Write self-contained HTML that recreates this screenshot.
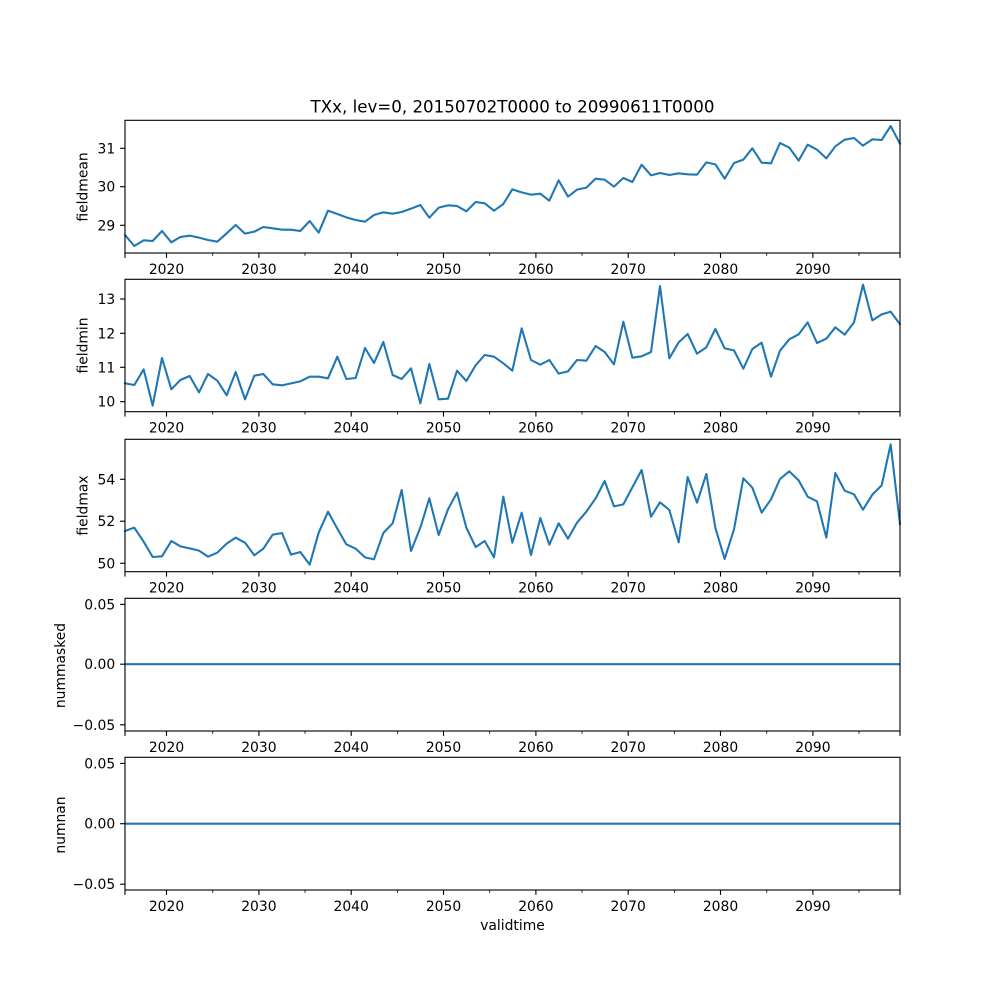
<!DOCTYPE html>
<html>
<head>
<meta charset="utf-8">
<style>
  html, body { margin: 0; padding: 0; background: #ffffff; }
  svg { display: block; }
  text { font-family: "DejaVu Sans", "Liberation Sans", sans-serif; fill: #000; }
  .tl { font-size: 13.89px; }
  .ttl { font-size: 16.67px; }
  .ax { fill: none; stroke: #000; stroke-width: 1.11; }
  .mj { stroke: #000; stroke-width: 1.11; }
  .mn { stroke: #000; stroke-width: 0.83; }
  .ln { fill: none; stroke: #1f77b4; stroke-width: 6.25; stroke-linejoin: round; stroke-linecap: square; }
  .hl { fill: none; stroke: #1f77b4; stroke-width: 2.08; }
</style>
</head>
<body>
<svg width="1000" height="1000" viewBox="0 0 1000 1000" xmlns="http://www.w3.org/2000/svg">
  <rect x="0" y="0" width="1000" height="1000" fill="#ffffff"/>

  <!-- Title -->
  <text class="ttl" x="512.5" y="112.7" text-anchor="middle">TXx, lev=0, 20150702T0000 to 20990611T0000</text>

  <!-- ===== Panel 1: fieldmean ===== -->
  <g transform="translate(100 100) scale(0.333333)">
    <polyline class="ln" points="75,405 103,438 131,421 158,423 186,393 214,427 241,411 269,407 297,413 324,420 352,425 380,400 407,375 435,401 463,395 490,381 518,385 546,389 573,389 601,393 629,363 656,398 684,332 712,342 739,352 767,360 795,365 822,345 850,337 878,341 905,336 933,326 961,315 988,353 1016,323 1044,316 1071,318 1099,334 1127,306 1154,310 1182,332 1210,312 1237,268 1265,277 1293,284 1321,281 1348,302 1376,241 1404,290 1431,269 1459,263 1487,236 1514,239 1542,260 1570,234 1597,246 1625,194 1653,226 1680,219 1708,225 1736,220 1763,223 1791,224 1819,187 1846,193 1874,236 1902,189 1930,179 1957,145 1985,188 2013,190 2040,129 2068,143 2096,182 2123,134 2151,149 2179,175 2206,139 2234,119 2262,114 2289,137 2317,118 2345,120 2372,78 2400,131"/>
  </g>
  <rect class="ax" x="125" y="120.3" width="775" height="132.7"/>
  <g>
    <line class="mj" x1="120.1" y1="148.3" x2="125" y2="148.3"/>
    <line class="mj" x1="120.1" y1="186.7" x2="125" y2="186.7"/>
    <line class="mj" x1="120.1" y1="225.3" x2="125" y2="225.3"/>
    <text class="tl" x="115.2" y="153.3" text-anchor="end">31</text>
    <text class="tl" x="115.2" y="191.7" text-anchor="end">30</text>
    <text class="tl" x="115.2" y="230.3" text-anchor="end">29</text>
    <text class="tl" transform="translate(87.7 187) rotate(-90)" text-anchor="middle">fieldmean</text>
  </g>
  <g transform="translate(0 253)">
    <line class="mj" x1="125" y1="0" x2="125" y2="4.9"/>
    <line class="mj" x1="166.5" y1="0" x2="166.5" y2="4.9"/>
    <line class="mj" x1="258.9" y1="0" x2="258.9" y2="4.9"/>
    <line class="mj" x1="351.2" y1="0" x2="351.2" y2="4.9"/>
    <line class="mj" x1="443.5" y1="0" x2="443.5" y2="4.9"/>
    <line class="mj" x1="535.9" y1="0" x2="535.9" y2="4.9"/>
    <line class="mj" x1="628.2" y1="0" x2="628.2" y2="4.9"/>
    <line class="mj" x1="720.5" y1="0" x2="720.5" y2="4.9"/>
    <line class="mj" x1="812.9" y1="0" x2="812.9" y2="4.9"/>
    <line class="mj" x1="900" y1="0" x2="900" y2="4.9"/>
    <line class="mn" x1="212.7" y1="0" x2="212.7" y2="2.8"/>
    <line class="mn" x1="305.0" y1="0" x2="305.0" y2="2.8"/>
    <line class="mn" x1="397.4" y1="0" x2="397.4" y2="2.8"/>
    <line class="mn" x1="489.7" y1="0" x2="489.7" y2="2.8"/>
    <line class="mn" x1="582.0" y1="0" x2="582.0" y2="2.8"/>
    <line class="mn" x1="674.4" y1="0" x2="674.4" y2="2.8"/>
    <line class="mn" x1="766.7" y1="0" x2="766.7" y2="2.8"/>
    <line class="mn" x1="859.0" y1="0" x2="859.0" y2="2.8"/>
    <text class="tl" x="166.5" y="21" text-anchor="middle">2020</text>
    <text class="tl" x="258.9" y="21" text-anchor="middle">2030</text>
    <text class="tl" x="351.2" y="21" text-anchor="middle">2040</text>
    <text class="tl" x="443.5" y="21" text-anchor="middle">2050</text>
    <text class="tl" x="535.9" y="21" text-anchor="middle">2060</text>
    <text class="tl" x="628.2" y="21" text-anchor="middle">2070</text>
    <text class="tl" x="720.5" y="21" text-anchor="middle">2080</text>
    <text class="tl" x="812.9" y="21" text-anchor="middle">2090</text>
  </g>

  <!-- ===== Panel 2: fieldmin ===== -->
  <g transform="translate(100 270) scale(0.333333)">
    <polyline class="ln" points="75,340 103,345 131,298 158,407 186,264 214,358 241,330 269,318 297,367 324,312 352,332 380,376 407,306 435,388 463,317 490,312 518,343 546,346 573,340 601,334 629,320 656,320 684,325 712,260 739,327 767,324 795,234 822,279 850,216 878,315 905,327 933,295 961,400 988,282 1016,388 1044,386 1071,302 1099,333 1127,286 1154,255 1182,260 1210,280 1237,302 1265,175 1293,270 1321,284 1348,270 1376,311 1404,304 1431,270 1459,272 1487,228 1514,246 1542,283 1570,155 1597,263 1625,259 1653,246 1680,48 1708,265 1736,217 1763,192 1791,251 1819,232 1846,177 1874,235 1902,241 1930,296 1957,237 1985,218 2013,320 2040,242 2068,208 2096,193 2123,157 2151,219 2179,206 2206,172 2234,194 2262,157 2289,44 2317,151 2345,133 2372,125 2400,163"/>
  </g>
  <rect class="ax" x="125" y="279.3" width="775" height="132.4"/>
  <g>
    <line class="mj" x1="120.1" y1="299" x2="125" y2="299"/>
    <line class="mj" x1="120.1" y1="333.3" x2="125" y2="333.3"/>
    <line class="mj" x1="120.1" y1="367.3" x2="125" y2="367.3"/>
    <line class="mj" x1="120.1" y1="401.7" x2="125" y2="401.7"/>
    <text class="tl" x="115.2" y="304" text-anchor="end">13</text>
    <text class="tl" x="115.2" y="338.3" text-anchor="end">12</text>
    <text class="tl" x="115.2" y="372.3" text-anchor="end">11</text>
    <text class="tl" x="115.2" y="406.7" text-anchor="end">10</text>
    <text class="tl" transform="translate(87.7 345.5) rotate(-90)" text-anchor="middle">fieldmin</text>
  </g>
  <g transform="translate(0 411.7)">
    <line class="mj" x1="125" y1="0" x2="125" y2="4.9"/>
    <line class="mj" x1="166.5" y1="0" x2="166.5" y2="4.9"/>
    <line class="mj" x1="258.9" y1="0" x2="258.9" y2="4.9"/>
    <line class="mj" x1="351.2" y1="0" x2="351.2" y2="4.9"/>
    <line class="mj" x1="443.5" y1="0" x2="443.5" y2="4.9"/>
    <line class="mj" x1="535.9" y1="0" x2="535.9" y2="4.9"/>
    <line class="mj" x1="628.2" y1="0" x2="628.2" y2="4.9"/>
    <line class="mj" x1="720.5" y1="0" x2="720.5" y2="4.9"/>
    <line class="mj" x1="812.9" y1="0" x2="812.9" y2="4.9"/>
    <line class="mj" x1="900" y1="0" x2="900" y2="4.9"/>
    <line class="mn" x1="212.7" y1="0" x2="212.7" y2="2.8"/>
    <line class="mn" x1="305.0" y1="0" x2="305.0" y2="2.8"/>
    <line class="mn" x1="397.4" y1="0" x2="397.4" y2="2.8"/>
    <line class="mn" x1="489.7" y1="0" x2="489.7" y2="2.8"/>
    <line class="mn" x1="582.0" y1="0" x2="582.0" y2="2.8"/>
    <line class="mn" x1="674.4" y1="0" x2="674.4" y2="2.8"/>
    <line class="mn" x1="766.7" y1="0" x2="766.7" y2="2.8"/>
    <line class="mn" x1="859.0" y1="0" x2="859.0" y2="2.8"/>
    <text class="tl" x="166.5" y="21" text-anchor="middle">2020</text>
    <text class="tl" x="258.9" y="21" text-anchor="middle">2030</text>
    <text class="tl" x="351.2" y="21" text-anchor="middle">2040</text>
    <text class="tl" x="443.5" y="21" text-anchor="middle">2050</text>
    <text class="tl" x="535.9" y="21" text-anchor="middle">2060</text>
    <text class="tl" x="628.2" y="21" text-anchor="middle">2070</text>
    <text class="tl" x="720.5" y="21" text-anchor="middle">2080</text>
    <text class="tl" x="812.9" y="21" text-anchor="middle">2090</text>
  </g>

  <!-- ===== Panel 3: fieldmax ===== -->
  <g transform="translate(100 430) scale(0.333333)">
    <polyline class="ln" points="75,303 103,293 131,335 158,381 186,379 214,333 241,349 269,355 297,362 324,380 352,368 380,341 407,323 435,338 463,376 490,356 518,314 546,309 573,374 601,366 629,404 656,308 684,245 712,296 739,343 767,356 795,382 822,388 850,309 878,280 905,180 933,363 961,293 988,205 1016,315 1044,238 1071,188 1099,293 1127,351 1154,333 1182,382 1210,200 1237,338 1265,248 1293,375 1321,264 1348,344 1376,280 1404,326 1431,278 1459,245 1487,205 1514,153 1542,229 1570,223 1597,172 1625,120 1653,260 1680,217 1708,240 1736,337 1763,141 1791,218 1819,132 1846,293 1874,387 1902,298 1930,145 1957,173 1985,248 2013,208 2040,147 2068,124 2096,151 2123,200 2151,214 2179,323 2206,129 2234,182 2262,193 2289,239 2317,194 2345,166 2372,43 2400,282"/>
  </g>
  <rect class="ax" x="125" y="439.3" width="775" height="132.4"/>
  <g>
    <line class="mj" x1="120.1" y1="479.3" x2="125" y2="479.3"/>
    <line class="mj" x1="120.1" y1="521.2" x2="125" y2="521.2"/>
    <line class="mj" x1="120.1" y1="563.3" x2="125" y2="563.3"/>
    <text class="tl" x="115.2" y="484.3" text-anchor="end">54</text>
    <text class="tl" x="115.2" y="526.2" text-anchor="end">52</text>
    <text class="tl" x="115.2" y="568.3" text-anchor="end">50</text>
    <text class="tl" transform="translate(87.7 505.5) rotate(-90)" text-anchor="middle">fieldmax</text>
  </g>
  <g transform="translate(0 571.7)">
    <line class="mj" x1="125" y1="0" x2="125" y2="4.9"/>
    <line class="mj" x1="166.5" y1="0" x2="166.5" y2="4.9"/>
    <line class="mj" x1="258.9" y1="0" x2="258.9" y2="4.9"/>
    <line class="mj" x1="351.2" y1="0" x2="351.2" y2="4.9"/>
    <line class="mj" x1="443.5" y1="0" x2="443.5" y2="4.9"/>
    <line class="mj" x1="535.9" y1="0" x2="535.9" y2="4.9"/>
    <line class="mj" x1="628.2" y1="0" x2="628.2" y2="4.9"/>
    <line class="mj" x1="720.5" y1="0" x2="720.5" y2="4.9"/>
    <line class="mj" x1="812.9" y1="0" x2="812.9" y2="4.9"/>
    <line class="mj" x1="900" y1="0" x2="900" y2="4.9"/>
    <line class="mn" x1="212.7" y1="0" x2="212.7" y2="2.8"/>
    <line class="mn" x1="305.0" y1="0" x2="305.0" y2="2.8"/>
    <line class="mn" x1="397.4" y1="0" x2="397.4" y2="2.8"/>
    <line class="mn" x1="489.7" y1="0" x2="489.7" y2="2.8"/>
    <line class="mn" x1="582.0" y1="0" x2="582.0" y2="2.8"/>
    <line class="mn" x1="674.4" y1="0" x2="674.4" y2="2.8"/>
    <line class="mn" x1="766.7" y1="0" x2="766.7" y2="2.8"/>
    <line class="mn" x1="859.0" y1="0" x2="859.0" y2="2.8"/>
    <text class="tl" x="166.5" y="21" text-anchor="middle">2020</text>
    <text class="tl" x="258.9" y="21" text-anchor="middle">2030</text>
    <text class="tl" x="351.2" y="21" text-anchor="middle">2040</text>
    <text class="tl" x="443.5" y="21" text-anchor="middle">2050</text>
    <text class="tl" x="535.9" y="21" text-anchor="middle">2060</text>
    <text class="tl" x="628.2" y="21" text-anchor="middle">2070</text>
    <text class="tl" x="720.5" y="21" text-anchor="middle">2080</text>
    <text class="tl" x="812.9" y="21" text-anchor="middle">2090</text>
  </g>

  <!-- ===== Panel 4: nummasked ===== -->
  <line class="hl" x1="125" y1="664.2" x2="900" y2="664.2"/>
  <rect class="ax" x="125" y="598.3" width="775" height="132.7"/>
  <g>
    <line class="mj" x1="120.1" y1="604.4" x2="125" y2="604.4"/>
    <line class="mj" x1="120.1" y1="664.2" x2="125" y2="664.2"/>
    <line class="mj" x1="120.1" y1="724.8" x2="125" y2="724.8"/>
    <text class="tl" x="115.2" y="609.4" text-anchor="end">0.05</text>
    <text class="tl" x="115.2" y="669.2" text-anchor="end">0.00</text>
    <text class="tl" x="115.2" y="729.8" text-anchor="end">−0.05</text>
    <text class="tl" transform="translate(65 665.5) rotate(-90)" text-anchor="middle">nummasked</text>
  </g>
  <g transform="translate(0 731)">
    <line class="mj" x1="125" y1="0" x2="125" y2="4.9"/>
    <line class="mj" x1="166.5" y1="0" x2="166.5" y2="4.9"/>
    <line class="mj" x1="258.9" y1="0" x2="258.9" y2="4.9"/>
    <line class="mj" x1="351.2" y1="0" x2="351.2" y2="4.9"/>
    <line class="mj" x1="443.5" y1="0" x2="443.5" y2="4.9"/>
    <line class="mj" x1="535.9" y1="0" x2="535.9" y2="4.9"/>
    <line class="mj" x1="628.2" y1="0" x2="628.2" y2="4.9"/>
    <line class="mj" x1="720.5" y1="0" x2="720.5" y2="4.9"/>
    <line class="mj" x1="812.9" y1="0" x2="812.9" y2="4.9"/>
    <line class="mj" x1="900" y1="0" x2="900" y2="4.9"/>
    <line class="mn" x1="212.7" y1="0" x2="212.7" y2="2.8"/>
    <line class="mn" x1="305.0" y1="0" x2="305.0" y2="2.8"/>
    <line class="mn" x1="397.4" y1="0" x2="397.4" y2="2.8"/>
    <line class="mn" x1="489.7" y1="0" x2="489.7" y2="2.8"/>
    <line class="mn" x1="582.0" y1="0" x2="582.0" y2="2.8"/>
    <line class="mn" x1="674.4" y1="0" x2="674.4" y2="2.8"/>
    <line class="mn" x1="766.7" y1="0" x2="766.7" y2="2.8"/>
    <line class="mn" x1="859.0" y1="0" x2="859.0" y2="2.8"/>
    <text class="tl" x="166.5" y="21" text-anchor="middle">2020</text>
    <text class="tl" x="258.9" y="21" text-anchor="middle">2030</text>
    <text class="tl" x="351.2" y="21" text-anchor="middle">2040</text>
    <text class="tl" x="443.5" y="21" text-anchor="middle">2050</text>
    <text class="tl" x="535.9" y="21" text-anchor="middle">2060</text>
    <text class="tl" x="628.2" y="21" text-anchor="middle">2070</text>
    <text class="tl" x="720.5" y="21" text-anchor="middle">2080</text>
    <text class="tl" x="812.9" y="21" text-anchor="middle">2090</text>
  </g>

  <!-- ===== Panel 5: numnan ===== -->
  <line class="hl" x1="125" y1="823.7" x2="900" y2="823.7"/>
  <rect class="ax" x="125" y="757.3" width="775" height="132.7"/>
  <g>
    <line class="mj" x1="120.1" y1="763.4" x2="125" y2="763.4"/>
    <line class="mj" x1="120.1" y1="823.7" x2="125" y2="823.7"/>
    <line class="mj" x1="120.1" y1="884.2" x2="125" y2="884.2"/>
    <text class="tl" x="115.2" y="768.4" text-anchor="end">0.05</text>
    <text class="tl" x="115.2" y="828.7" text-anchor="end">0.00</text>
    <text class="tl" x="115.2" y="889.2" text-anchor="end">−0.05</text>
    <text class="tl" transform="translate(65 825) rotate(-90)" text-anchor="middle">numnan</text>
  </g>
  <g transform="translate(0 890)">
    <line class="mj" x1="125" y1="0" x2="125" y2="4.9"/>
    <line class="mj" x1="166.5" y1="0" x2="166.5" y2="4.9"/>
    <line class="mj" x1="258.9" y1="0" x2="258.9" y2="4.9"/>
    <line class="mj" x1="351.2" y1="0" x2="351.2" y2="4.9"/>
    <line class="mj" x1="443.5" y1="0" x2="443.5" y2="4.9"/>
    <line class="mj" x1="535.9" y1="0" x2="535.9" y2="4.9"/>
    <line class="mj" x1="628.2" y1="0" x2="628.2" y2="4.9"/>
    <line class="mj" x1="720.5" y1="0" x2="720.5" y2="4.9"/>
    <line class="mj" x1="812.9" y1="0" x2="812.9" y2="4.9"/>
    <line class="mj" x1="900" y1="0" x2="900" y2="4.9"/>
    <line class="mn" x1="212.7" y1="0" x2="212.7" y2="2.8"/>
    <line class="mn" x1="305.0" y1="0" x2="305.0" y2="2.8"/>
    <line class="mn" x1="397.4" y1="0" x2="397.4" y2="2.8"/>
    <line class="mn" x1="489.7" y1="0" x2="489.7" y2="2.8"/>
    <line class="mn" x1="582.0" y1="0" x2="582.0" y2="2.8"/>
    <line class="mn" x1="674.4" y1="0" x2="674.4" y2="2.8"/>
    <line class="mn" x1="766.7" y1="0" x2="766.7" y2="2.8"/>
    <line class="mn" x1="859.0" y1="0" x2="859.0" y2="2.8"/>
    <text class="tl" x="166.5" y="21" text-anchor="middle">2020</text>
    <text class="tl" x="258.9" y="21" text-anchor="middle">2030</text>
    <text class="tl" x="351.2" y="21" text-anchor="middle">2040</text>
    <text class="tl" x="443.5" y="21" text-anchor="middle">2050</text>
    <text class="tl" x="535.9" y="21" text-anchor="middle">2060</text>
    <text class="tl" x="628.2" y="21" text-anchor="middle">2070</text>
    <text class="tl" x="720.5" y="21" text-anchor="middle">2080</text>
    <text class="tl" x="812.9" y="21" text-anchor="middle">2090</text>
  </g>

  <!-- x label -->
  <text class="tl" x="512.5" y="930" text-anchor="middle">validtime</text>
</svg>
</body>
</html>
